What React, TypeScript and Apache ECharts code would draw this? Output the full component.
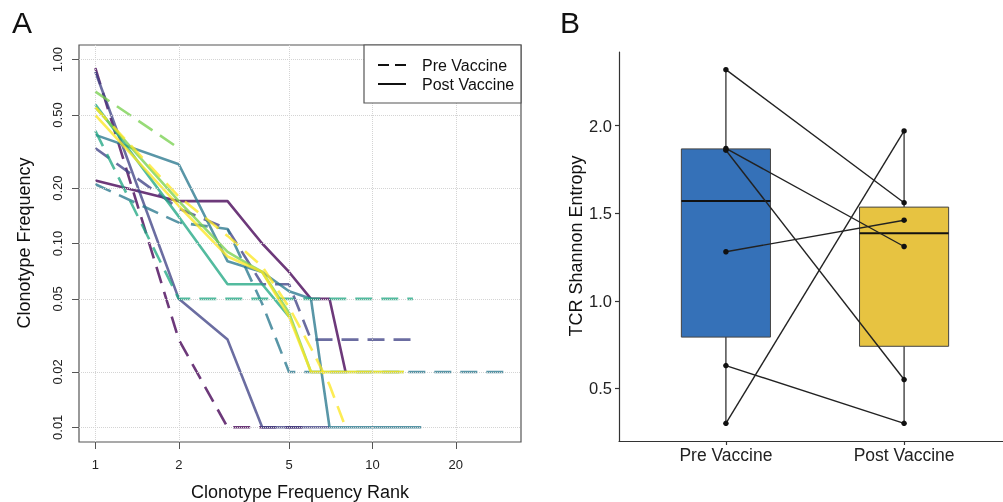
import React, { useEffect, useRef } from 'react';
import * as echarts from 'echarts';

const FONT = '"Liberation Sans", Arial, Helvetica, sans-serif';

// ---------- Panel A data ----------
const rankTicks = [1, 2, 5, 10, 20];
const freqTicks = [0.01, 0.02, 0.05, 0.1, 0.2, 0.5, 1];
const rankLimits = [1, 30];
const freqLimits = [0.01, 1];
const patientColors = ['#440154', '#414487', '#2A788E', '#22A884', '#7AD151', '#FDE725'];

const preP1 = [0.9, 0.03, 0.01, 0.01, 0.01, 0.01];
const postP1 = [0.22, 0.17, 0.17, 0.1, 0.07, 0.05, 0.05, 0.02];
const preP2 = [0.33, 0.155, 0.12, 0.06, 0.06, 0.03, 0.03, 0.03, 0.03, 0.03, 0.03, 0.03, 0.03, 0.03];
const postP2 = [0.86, 0.05, 0.03, 0.01, 0.01, 0.01, 0.01];
const preP3 = [0.21, 0.13, 0.12, 0.047, 0.02, 0.02, 0.02, 0.02, 0.02, 0.02, 0.02, 0.02, 0.02, 0.02, 0.02,
  0.02, 0.02, 0.02, 0.02, 0.02, 0.02, 0.02, 0.02, 0.02, 0.02, 0.02, 0.02, 0.02, 0.02, 0.02];
const postP3 = [0.39, 0.27, 0.08, 0.07, 0.055, 0.05, 0.01, 0.01, 0.01, 0.01, 0.01, 0.01, 0.01, 0.01, 0.01];
const preP4 = [0.41, 0.05, 0.05, 0.05, 0.05, 0.05, 0.05, 0.05, 0.05, 0.05, 0.05, 0.05, 0.05, 0.05];
const postP4 = [0.57, 0.14, 0.06, 0.06, 0.04];
const preP5 = [0.67, 0.33];
const postP5 = [0.55, 0.17, 0.09, 0.07, 0.042, 0.02, 0.02, 0.02, 0.02, 0.02, 0.02, 0.02, 0.02];
const preP6 = [0.55, 0.18, 0.11, 0.075, 0.045, 0.027, 0.017, 0.01];
const postP6 = [0.5, 0.16, 0.085, 0.07, 0.04, 0.02, 0.02, 0.02, 0.02, 0.02, 0.02, 0.02, 0.02];

const preSets = [preP1, preP2, preP3, preP4, preP5, preP6];
const postSets = [postP1, postP2, postP3, postP4, postP5, postP6];

// ---------- Panel B data ----------
const groupLabels = ['Pre Vaccine', 'Post Vaccine'];
const groupColors = ['#3571B8', '#E7C341'];
const entropyPre = [2.32, 1.87, 1.86, 1.28, 0.63, 0.3];
const entropyPost = [1.56, 1.31, 0.55, 1.46, 0.3, 1.97];
const entropyTicks = [0.5, 1.0, 1.5, 2.0];

function quantile7(arr: number[], p: number) {
  const s = [...arr].sort((a, b) => a - b);
  const h = (s.length - 1) * p;
  const lo = Math.floor(h);
  const hi = Math.ceil(h);
  return s[lo] + (h - lo) * (s[hi] - s[lo]);
}
function boxStats(arr: number[]) {
  const q1 = quantile7(arr, 0.25);
  const med = quantile7(arr, 0.5);
  const q3 = quantile7(arr, 0.75);
  const iqr = q3 - q1;
  const lo = Math.min(...arr.filter((v) => v >= q1 - 1.5 * iqr));
  const hi = Math.max(...arr.filter((v) => v <= q3 + 1.5 * iqr));
  return [lo, q1, med, q3, hi];
}

export default function App() {
  const ref = useRef<HTMLDivElement>(null);
  useEffect(() => {
    const chart = echarts.init(ref.current!, null, { renderer: 'svg' });

    // R-style 4% extension on log scale
    const lx0 = Math.log10(rankLimits[0]);
    const lx1 = Math.log10(rankLimits[1]);
    const ly0 = Math.log10(freqLimits[0]);
    const ly1 = Math.log10(freqLimits[1]);
    const ex = (lx1 - lx0) * 0.04;
    const ey = (ly1 - ly0) * 0.04;
    const lxMin = lx0 - ex, lxMax = lx1 + ex, lyMin = ly0 - ey, lyMax = ly1 + ey;

    // ggplot 5% extension for panel B
    const all = [...entropyPre, ...entropyPost];
    const bMin = Math.min(...all), bMax = Math.max(...all);
    const bExt = (bMax - bMin) * 0.05;

    const boxData = [
      [1, ...boxStats(entropyPre)],
      [2, ...boxStats(entropyPost)],
    ];

    const lineSeries: any[] = [];
    patientColors.forEach((c, i) => {
      lineSeries.push({
        type: 'line', xAxisIndex: 0, yAxisIndex: 0, silent: true, z: 3,
        data: preSets[i].map((v, k) => [k + 1, v]),
        symbol: 'none',
        lineStyle: { color: c, width: 2.6, type: [17, 9], opacity: 0.78, cap: 'butt' },
      });
      lineSeries.push({
        type: 'line', xAxisIndex: 0, yAxisIndex: 0, silent: true, z: 3,
        data: postSets[i].map((v, k) => [k + 1, v]),
        symbol: 'none',
        lineStyle: { color: c, width: 2.6, opacity: 0.78 },
      });
    });

    const pairSeries = entropyPre.map((v, i) => ({
      type: 'line', xAxisIndex: 2, yAxisIndex: 2, silent: true, z: 5,
      data: [[1, v], [2, entropyPost[i]]],
      symbol: 'circle', symbolSize: 5.5,
      itemStyle: { color: '#111' },
      lineStyle: { color: '#222', width: 1.4 },
    }));

    const tickFont = { fontFamily: FONT, color: '#222' };

    const option: any = {
      animation: false,
      textStyle: { fontFamily: FONT },
      grid: [
        { left: 79, top: 45, width: 442, height: 397, show: true, borderColor: '#555', borderWidth: 1.2,
          backgroundColor: 'transparent', containLabel: false, outerBoundsMode: 'none' },
        { left: 619, top: 52, width: 392, height: 389, show: false, containLabel: false, outerBoundsMode: 'none' },
      ],
      xAxis: [
        { type: 'log', logBase: 10, gridIndex: 0, min: Math.pow(10, lxMin), max: Math.pow(10, lxMax), show: false, position: 'bottom' },
        { type: 'value', gridIndex: 0, min: lxMin, max: lxMax, position: 'bottom',
          axisLine: { show: false }, splitLine: { show: false },
          axisTick: { show: true, customValues: rankTicks.map(Math.log10), length: 7, lineStyle: { color: '#555', width: 1 } },
          axisLabel: { ...tickFont, fontSize: 13, margin: 16, customValues: rankTicks.map(Math.log10),
            formatter: (v: number) => String(Math.round(Math.pow(10, v))) } },
        { type: 'value', gridIndex: 1, min: 0.4, max: 2.6, position: 'bottom',
          axisLine: { show: true, lineStyle: { color: '#333', width: 1.2 } }, splitLine: { show: false },
          axisTick: { show: true, customValues: [1, 2], length: 4, lineStyle: { color: '#333', width: 1.2 } },
          axisLabel: { ...tickFont, fontSize: 17.5, margin: 5, customValues: [1, 2],
            formatter: (v: number) => groupLabels[Math.round(v) - 1] } },
      ],
      yAxis: [
        { type: 'log', logBase: 10, gridIndex: 0, min: Math.pow(10, lyMin), max: Math.pow(10, lyMax), show: false, position: 'left' },
        { type: 'value', gridIndex: 0, min: lyMin, max: lyMax, position: 'left',
          axisLine: { show: false }, splitLine: { show: false },
          axisTick: { show: true, customValues: freqTicks.map(Math.log10), length: 7, lineStyle: { color: '#555', width: 1 } },
          axisLabel: { ...tickFont, fontSize: 13, margin: 15, rotate: 90, customValues: freqTicks.map(Math.log10),
            formatter: (v: number) => Math.pow(10, v).toFixed(2) } },
        { type: 'value', gridIndex: 1, min: bMin - bExt, max: bMax + bExt, position: 'left',
          axisLine: { show: true, lineStyle: { color: '#333', width: 1.2 } }, splitLine: { show: false },
          axisTick: { show: true, customValues: entropyTicks, length: 4, lineStyle: { color: '#333', width: 1.2 } },
          axisLabel: { ...tickFont, fontSize: 16.5, margin: 7, customValues: entropyTicks,
            formatter: (v: number) => v.toFixed(1) } },
      ],
      series: [
        {
          type: 'line', xAxisIndex: 0, yAxisIndex: 0, data: [], silent: true, z: 1,
          markLine: {
            silent: true, symbol: ['none', 'none'], label: { show: false }, animation: false,
            lineStyle: { color: '#d4d4d4', type: 'dotted', width: 1 },
            emphasis: { disabled: true },
            data: [...rankTicks.map((t) => ({ xAxis: t })), ...freqTicks.map((t) => ({ yAxis: t }))],
          },
        },
        ...lineSeries,
        {
          type: 'custom', xAxisIndex: 2, yAxisIndex: 2, silent: true, z: 2,
          data: boxData,
          encode: { x: 0, y: [1, 2, 3, 4, 5] },
          renderItem: (params: any, api: any) => {
            const x = api.value(0);
            const [cx, yLo] = api.coord([x, api.value(1)]);
            const yQ1 = api.coord([x, api.value(2)])[1];
            const yMed = api.coord([x, api.value(3)])[1];
            const yQ3 = api.coord([x, api.value(4)])[1];
            const yHi = api.coord([x, api.value(5)])[1];
            const w = api.size([0.5, 0])[0];
            const ws = { stroke: '#333', lineWidth: 1.3 };
            return {
              type: 'group',
              children: [
                { type: 'line', shape: { x1: cx, y1: yHi, x2: cx, y2: yQ3 }, style: ws },
                { type: 'line', shape: { x1: cx, y1: yQ1, x2: cx, y2: yLo }, style: ws },
                { type: 'rect', shape: { x: cx - w / 2, y: yQ3, width: w, height: yQ1 - yQ3 },
                  style: { fill: groupColors[params.dataIndex], stroke: '#444', lineWidth: 1 } },
                { type: 'line', shape: { x1: cx - w / 2, y1: yMed, x2: cx + w / 2, y2: yMed },
                  style: { stroke: '#111', lineWidth: 2 } },
              ],
            };
          },
        },
        ...pairSeries,
      ],
      graphic: [
        { type: 'text', x: 22, y: 22, z: 100,
          style: { text: 'A', fontSize: 30, fontFamily: FONT, fill: '#111', align: 'center', verticalAlign: 'middle', textAlign: 'center', textVerticalAlign: 'middle' } },
        { type: 'text', x: 570, y: 22, z: 100,
          style: { text: 'B', fontSize: 30, fontFamily: FONT, fill: '#111', align: 'center', verticalAlign: 'middle', textAlign: 'center', textVerticalAlign: 'middle' } },
        { type: 'text', x: 24, y: 243, rotation: Math.PI / 2, z: 100,
          style: { text: 'Clonotype Frequency', fontSize: 18, fontFamily: FONT, fill: '#111', align: 'center', verticalAlign: 'middle', textAlign: 'center', textVerticalAlign: 'middle' } },
        { type: 'text', x: 300, y: 492, z: 100,
          style: { text: 'Clonotype Frequency Rank', fontSize: 18, fontFamily: FONT, fill: '#111', align: 'center', verticalAlign: 'middle', textAlign: 'center', textVerticalAlign: 'middle' } },
        { type: 'text', x: 576, y: 246, rotation: Math.PI / 2, z: 100,
          style: { text: 'TCR Shannon Entropy', fontSize: 18, fontFamily: FONT, fill: '#111', align: 'center', verticalAlign: 'middle', textAlign: 'center', textVerticalAlign: 'middle' } },
        { type: 'rect', z: 100, shape: { x: 364, y: 45, width: 157, height: 58 },
          style: { fill: '#fff', stroke: '#555', lineWidth: 1.2 } },
        { type: 'line', z: 101, shape: { x1: 378, y1: 65, x2: 406, y2: 65 },
          style: { stroke: '#111', lineWidth: 2, lineDash: [11, 6] } },
        { type: 'line', z: 101, shape: { x1: 378, y1: 84, x2: 406, y2: 84 },
          style: { stroke: '#111', lineWidth: 2 } },
        { type: 'text', x: 422, y: 65, z: 101,
          style: { text: 'Pre Vaccine', fontSize: 16, fontFamily: FONT, fill: '#111', align: 'left', verticalAlign: 'middle', textAlign: 'left', textVerticalAlign: 'middle' } },
        { type: 'text', x: 422, y: 84, z: 101,
          style: { text: 'Post Vaccine', fontSize: 16, fontFamily: FONT, fill: '#111', align: 'left', verticalAlign: 'middle', textAlign: 'left', textVerticalAlign: 'middle' } },
      ],
    };

    chart.setOption(option);
    return () => chart.dispose();
  }, []);
  return <div ref={ref} style={{ position: 'fixed', left: 0, top: 0, width: 1003, height: 502 }} />;
}
